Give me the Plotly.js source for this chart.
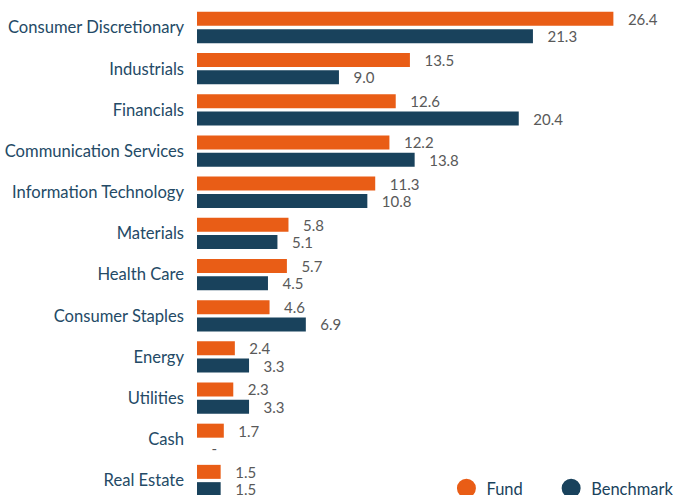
<!DOCTYPE html>
<html>
<head>
<meta charset="utf-8">
<script src="https://cdn.plot.ly/plotly-3.0.1.min.js"></script>
<style>
  html, body { margin: 0; padding: 0; background: #fff; }
  #chart { width: 673px; height: 495px; }
</style>
</head>
<body>
<div id="chart"></div>
<script>
// sector weights, fund vs benchmark (%)
var sectors = ['Consumer Discretionary', 'Industrials', 'Financials', 'Communication Services',
  'Information Technology', 'Materials', 'Health Care', 'Consumer Staples',
  'Energy', 'Utilities', 'Cash', 'Real Estate'];
var fund = [26.4, 13.5, 12.6, 12.2, 11.3, 5.8, 5.7, 4.6, 2.4, 2.3, 1.7, 1.5];
var benchmark = [21.3, 9.0, 20.4, 13.8, 10.8, 5.1, 4.5, 6.9, 3.3, 3.3, null, 1.5];

var orange = '#e95d16';
var navy = '#19425c';
var pad = '\u00a0\u00a0\u00a0';

function labels(arr) {
  return arr.map(function(v) { return pad + (v === null ? '-' : v.toFixed(1)); });
}

var traceFund = {
  type: 'bar', orientation: 'h',
  y: sectors, x: fund,
  text: labels(fund), textposition: 'outside', cliponaxis: false, constraintext: 'none',
  textfont: { family: 'Lato', size: 15, color: '#595959' },
  marker: { color: orange },
  showlegend: false, hoverinfo: 'none'
};

var traceBench = {
  type: 'bar', orientation: 'h',
  y: sectors, x: benchmark.map(function(v) { return v === null ? 0 : v; }),
  text: labels(benchmark), textposition: 'outside', cliponaxis: false, constraintext: 'none',
  textfont: { family: 'Lato', size: 15, color: '#595959' },
  marker: { color: navy },
  showlegend: false, hoverinfo: 'none'
};

// legend-only entries with round markers
var legFund = {
  type: 'scatter', mode: 'markers', x: [null], y: [null], name: 'Fund',
  marker: { color: orange, size: 20, symbol: 'circle', line: { color: orange, width: 3 } },
  legend: 'legend'
};
var legBench = {
  type: 'scatter', mode: 'markers', x: [null], y: [null], name: 'Benchmark',
  marker: { color: navy, size: 20, symbol: 'circle', line: { color: navy, width: 3 } },
  legend: 'legend2'
};

var legendStyle = {
  orientation: 'h', xanchor: 'left', yanchor: 'middle', y: 0.013,
  font: { family: 'Lato', size: 16.5, color: navy },
  bgcolor: 'rgba(0,0,0,0)', borderwidth: 0
};

var layout = {
  width: 673, height: 495,
  margin: { l: 197, r: 0, t: 0, b: 0, autoexpand: false },
  paper_bgcolor: '#fff', plot_bgcolor: '#fff',
  barmode: 'group', bargap: 0.16, bargroupgap: 0.19,
  font: { family: 'Lato', size: 15, color: navy },
  xaxis: { visible: false, range: [0, 30.18], fixedrange: true },
  yaxis: {
    type: 'category', categoryorder: 'array', categoryarray: sectors,
    range: [11.352, -0.668], autorange: false,
    showgrid: false, zeroline: false, showline: false, ticks: '',
    ticklabelstandoff: 12,
    tickfont: { family: 'Lato', size: 16.6, color: '#244a66' }
  },
  legend: Object.assign({ x: 0.524 }, legendStyle),
  legend2: Object.assign({ x: 0.744 }, legendStyle),
  showlegend: true
};

Plotly.newPlot('chart', [traceFund, traceBench, legFund, legBench], layout, { staticPlot: true });
</script>
</body>
</html>
